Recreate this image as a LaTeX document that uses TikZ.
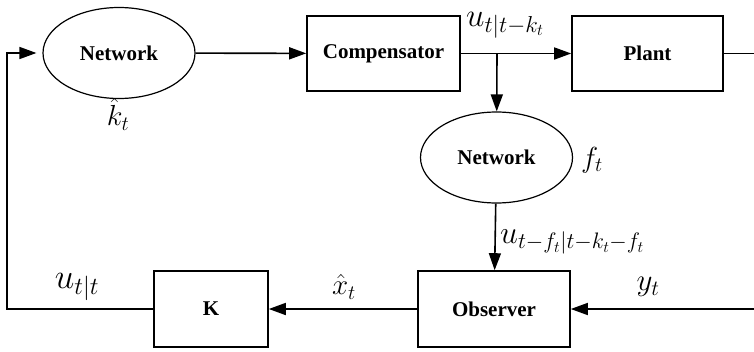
\RequirePackage{fix-cm}
\documentclass[tikz,border=0pt]{standalone}
\usepackage{fontspec}
\setmainfont{Liberation Serif}
\usepackage{amsmath}
\usetikzlibrary{positioning,calc,arrows.meta,shapes.geometric}
\tikzset{font=\fontsize{21}{25}\selectfont\bfseries}
\tikzset{block/.style={draw, line width=1.6pt, rectangle, minimum height=75pt},
	net/.style={draw, line width=1.2pt, ellipse, minimum width=152pt, minimum height=91pt},
	sig/.style={line width=1.6pt, -{Triangle[length=17pt,width=12pt]}},
	lbl/.style={font=\fontsize{29}{31}\selectfont, inner sep=1pt}}

\begin{document}
\begin{tikzpicture}[x=1pt, y=-1pt]
	\useasboundingbox (0,0) rectangle (754,351);
	\begin{scope}
		\node[net] (net1) at (119, 53) {Network};
		\node[block, minimum width=153pt] (comp) at (383.5, 53.5) {Compensator};
		\node[block, minimum width=151pt] (plant) at (647.5, 53.5) {Plant};
		\node[net] (net2) at (496.5, 157.5) {Network};
		\node[block, minimum width=152pt, minimum height=76pt] (obs) at (494, 309) {Observer};
		\node[block, minimum width=114pt, minimum height=76pt] (k) at (211, 309) {K};

		\coordinate (br) at (497, 53.5);
		\coordinate (lb) at (7, 309);
		\coordinate (rt) at (775, 53.5);

		% labels
		\node[lbl, inner sep=0pt, font=\fontsize{33}{35}\selectfont] (uc) at (505, 25) {$u_{t|t-k_t}$};
		\node[lbl] (kt) at (118, 114) {$\hat{k}_t$};
		\node[lbl] (ft) at (592, 160) {$f_t$};
		\node[lbl, anchor=west, font=\fontsize{32}{34}\selectfont] (uo) at (499, 242) {$u_{t-f_t|t-k_t-f_t}$};
		\node[lbl] (xt) at (344, 287) {$\hat{x}_t$};
		\node[lbl, font=\fontsize{31}{33}\selectfont] (yt) at (648, 287) {$y_t$};
		\node[lbl, font=\fontsize{35}{37}\selectfont] (ut) at (77, 287) {$u_{t|t}$};

		\draw[sig] (net1) -- (comp);
		\draw[sig] (comp) -- (plant);
		\draw[sig] (br) -- (net2);
		\draw[sig] (net2) -- (obs);
		\draw[sig] (obs) -- (k);
		\draw[sig] (plant.east) -- (rt) |- (obs.east);
		\draw[sig, shorten >=6pt] (k.west) -- (lb) |- (net1.west);
	\end{scope}
\end{tikzpicture}
\end{document}
